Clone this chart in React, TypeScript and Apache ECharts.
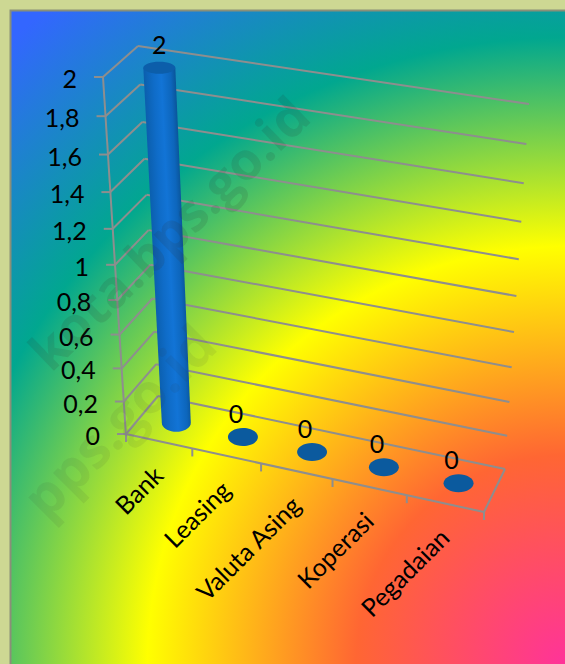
import React, { useEffect, useRef } from "react";
import * as echarts from "echarts";

const categories = ["Bank", "Leasing", "Valuta Asing", "Koperasi", "Pegadaian"];
const values = [2, 0, 0, 0, 0];
const yTicks = [0, 0.2, 0.4, 0.6, 0.8, 1, 1.2, 1.4, 1.6, 1.8, 2];
const yTickLabels = ["0", "0,2", "0,4", "0,6", "0,8", "1", "1,2", "1,4", "1,6", "1,8", "2"];
const frameItems = [0];
const watermarks = ["kota.bps.go.id", "pps.go.id"];

const W = 565;
const H = 664;
const FONT = "Lato";
type P = [number, number];
const FL0: P = [126, 434], FR0: P = [484, 512], BL0: P = [158, 396], BR0: P = [505, 469];
const FL1: P = [103, 77], FR1: P = [509, 140], BL1: P = [138, 46], BR1: P = [529, 104];
const mix = (a: P, b: P, k: number): P => [a[0] + (b[0] - a[0]) * k, a[1] + (b[1] - a[1]) * k];
const warp = (t: number, k: number) => t / (t + k * (1 - t));
const project = (t: number, depth: number, w: number): P => {
  const u = warp(t, 1.1);
  const h = warp(w, 1.11);
  const bottom = mix(mix(FL0, FR0, u), mix(BL0, BR0, u), depth);
  const top = mix(mix(FL1, FR1, u), mix(BL1, BR1, u), depth);
  return mix(bottom, top, h);
};
const normal = (params: any, api: any, x: number, y: number) => {
  const [px, py] = api.coord([x, y]);
  const c = params.coordSys;
  return [(px - c.x) / c.width, (c.y + c.height - py) / c.height];
};
const lineStyle = { stroke: "#8e8e8e", lineWidth: 2, fill: "none" };
const seg = (a: P, b: P) => ({
  type: "line",
  shape: { x1: a[0], y1: a[1], x2: b[0], y2: b[1] },
  style: lineStyle,
});
const BAR_DEPTH = 0.49;
const BAR_SHIFT = 0.007;

function renderFrame(params: any, api: any) {
  const children: any[] = [
    seg(FL1, [FL0[0] + 0.3, FL0[1] + 7]),
    seg(FL0, FR0),
    seg(FR0, BR0),
  ];
  for (let i = 0; i <= categories.length; i++) {
    const p = project(i / categories.length, 0, 0);
    children.push(seg(p, [p[0], p[1] + 8]));
  }
  return { type: "group", children };
}

function renderGrid(params: any, api: any) {
  const [, w] = normal(params, api, 0, api.value(1));
  const f = project(0, 0, w);
  const bl = project(0, 1, w);
  const br = project(1, 1, w);
  return {
    type: "group",
    children: [
      seg(f, bl),
      seg(bl, br),
      seg(f, [f[0] - 9, f[1]]),
      {
        type: "text",
        x: f[0] - 26,
        y: f[1] + 1,
        style: {
          text: yTickLabels[params.dataIndex],
          font: `25px ${FONT}`,
          fill: "#000",
          textAlign: "right",
          textVerticalAlign: "middle",
        },
      },
    ],
  };
}

function renderBars(params: any, api: any) {
  const i = api.value(0);
  const v = api.value(1);
  const [t, w] = normal(params, api, i, v);
  const b = project(t + BAR_SHIFT, BAR_DEPTH, 0);
  const a = project(t + BAR_SHIFT, BAR_DEPTH, w);
  const labelStyle = {
    text: String(v),
    font: `25px ${FONT}`,
    fill: "#000",
    textAlign: "center",
    textVerticalAlign: "middle",
  };
  if (w === 0) {
    return {
      type: "group",
      children: [
        { type: "ellipse", shape: { cx: b[0], cy: b[1], rx: 15, ry: 9 }, style: { fill: "#0b5a9e" } },
        { type: "text", x: b[0] - 7, y: b[1] - 24, style: labelStyle },
      ],
    };
  }
  const rxB = 14.5, ryB = 9, rxT = 16, ryT = 6;
  const pts: number[][] = [[a[0] - rxT, a[1]], [a[0] + rxT, a[1]]];
  for (let d = 0; d <= 180; d += 10) {
    const r = (d * Math.PI) / 180;
    pts.push([b[0] + rxB * Math.cos(r), b[1] + ryB * Math.sin(r)]);
  }
  const m = mix(a, b, 0.5);
  const dx = b[0] - a[0], dy = b[1] - a[1];
  const len = Math.hypot(dx, dy);
  const nx = dy / len, ny = -dx / len;
  const rm = 15.5;
  const fill = {
    type: "linear",
    global: true,
    x: m[0] - nx * rm,
    y: m[1] - ny * rm,
    x2: m[0] + nx * rm,
    y2: m[1] + ny * rm,
    colorStops: [
      { offset: 0, color: "#0b5fae" },
      { offset: 0.3, color: "#0f6cc8" },
      { offset: 0.55, color: "#1274d6" },
      { offset: 0.85, color: "#0d66bc" },
      { offset: 1, color: "#0a569c" },
    ],
  };
  return {
    type: "group",
    children: [
      { type: "polygon", shape: { points: pts }, style: { fill } },
      { type: "ellipse", shape: { cx: a[0], cy: a[1], rx: rxT, ry: ryT }, style: { fill: "#0c5eaa" } },
      { type: "text", x: a[0], y: a[1] - 24, style: labelStyle },
    ],
  };
}

function renderCategories(params: any, api: any) {
  const i = api.value(0);
  const [t] = normal(params, api, i, 0);
  const p = project(t, 0, 0);
  return {
    type: "text",
    x: p[0] - 1,
    y: p[1] + 29,
    rotation: Math.PI / 4,
    style: {
      text: categories[i],
      font: `25px ${FONT}`,
      fill: "#000",
      textAlign: "right",
      textVerticalAlign: "middle",
    },
  };
}

export default function App() {
  const ref = useRef<HTMLDivElement>(null);
  useEffect(() => {
    document.body.style.margin = "0";
    const chart = echarts.init(ref.current!, undefined, { renderer: "svg" });
    chart.setOption({
      animation: false,
      backgroundColor: "#cdd893",
      grid: { left: 0, top: 0, width: W, height: H },
      xAxis: { type: "category", data: categories, show: false },
      yAxis: { type: "value", min: 0, max: 2, interval: 0.2, show: false },
      graphic: {
        elements: [
          {
            type: "rect",
            z: -10,
            shape: { x: 10.5, y: 10.5, width: W, height: H },
            style: {
              stroke: "#8a8f78",
              lineWidth: 2,
              fill: {
                type: "radial",
                global: true,
                x: W,
                y: H,
                r: 835,
                colorStops: [
                  { offset: 0, color: "#FF3399" },
                  { offset: 0.25, color: "#FF6633" },
                  { offset: 0.5, color: "#FFFF00" },
                  { offset: 0.75, color: "#01A78F" },
                  { offset: 1, color: "#3366FF" },
                ],
              },
            },
          },
          {
            type: "text",
            z: 100,
            x: 168,
            y: 232,
            rotation: (44 * Math.PI) / 180,
            style: {
              font: 'bold 52px "Open Sans"',
              textAlign: "center",
              textVerticalAlign: "middle",
              fill: "rgba(50,50,50,0.13)",
              text: watermarks[0],
            },
          },
          {
            type: "text",
            z: 100,
            x: 118,
            y: 420,
            rotation: (45 * Math.PI) / 180,
            style: {
              font: 'bold 55px "Open Sans"',
              textAlign: "center",
              textVerticalAlign: "middle",
              fill: "rgba(50,50,50,0.08)",
              text: watermarks[1],
            },
          },
        ],
      },
      series: [
        { type: "custom", silent: true, z: 2, data: frameItems.map((d) => [d, 0]), renderItem: renderFrame },
        { type: "custom", silent: true, z: 3, data: yTicks.map((v) => [0, v]), renderItem: renderGrid },
        { type: "custom", silent: true, z: 4, data: values.map((v, i) => [i, v]), renderItem: renderBars },
        { type: "custom", silent: true, z: 5, data: categories.map((_, i) => [i, 0]), renderItem: renderCategories },
      ],
    });
    return () => chart.dispose();
  }, []);
  return <div ref={ref} style={{ width: W, height: H }} />;
}
